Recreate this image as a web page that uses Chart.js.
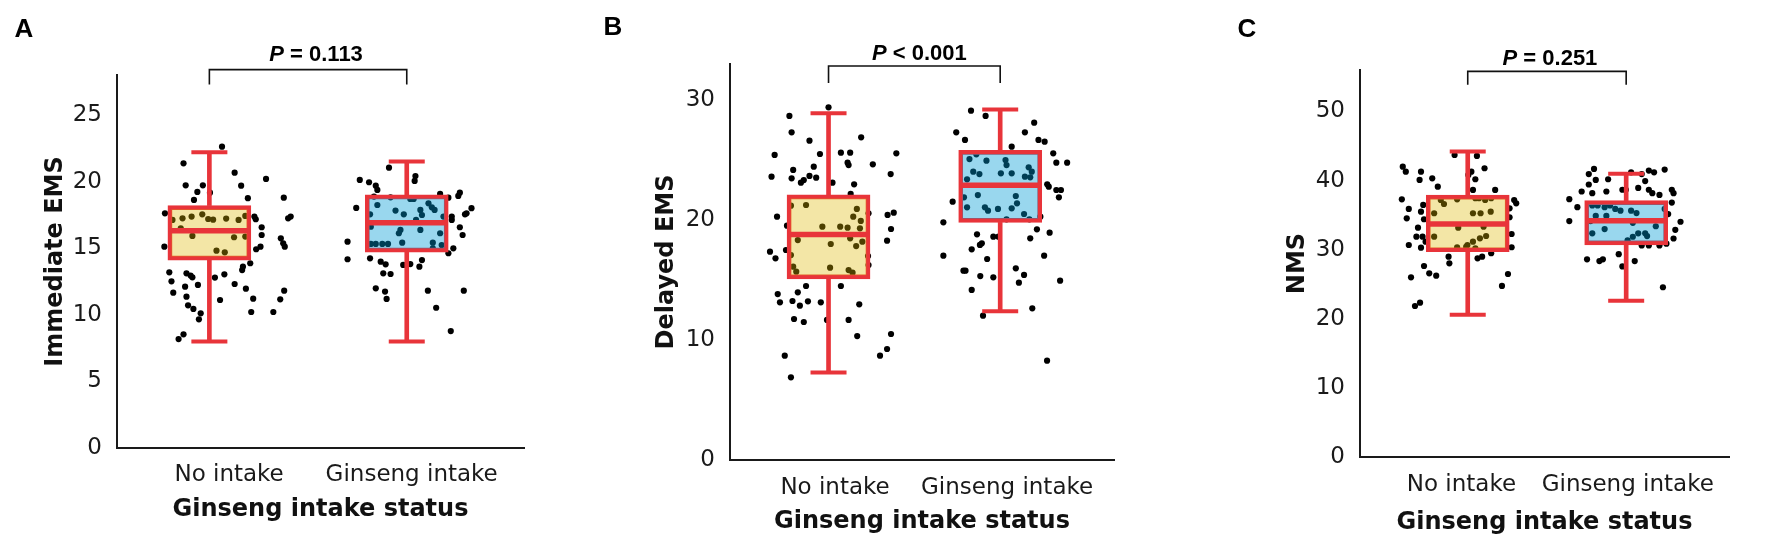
<!DOCTYPE html>
<html>
<head>
<meta charset="utf-8">
<script src="https://cdn.jsdelivr.net/npm/chart.js@4.4.1/dist/chart.umd.min.js"></script>
<style>
  html, body { margin: 0; padding: 0; background: #fff; }
  body { width: 1775px; height: 546px; position: relative; overflow: hidden; }
  canvas { position: absolute; top: 0; }
</style>
</head>
<body>
<canvas id="panelA" width="570" height="546" style="left:0px"></canvas>
<canvas id="panelB" width="590" height="546" style="left:570px"></canvas>
<canvas id="panelC" width="615" height="546" style="left:1160px"></canvas>
<script>
// categories and text
const categories = ['No intake', 'Ginseng intake'];
const yTitles = ['Immediate EMS', 'Delayed EMS', 'NMS'];
const xTitle = 'Ginseng intake status';
const letters = ['A', 'B', 'C'];
const pTexts = [['P', ' = 0.113'], ['P', ' < 0.001'], ['P', ' = 0.251']];

// y axis ranges
const yMax = [28, 33, 56];
const yStep = [5, 10, 10];

// box stats: [min, q1, median, q3, max]
const immNoBox = [8.0, 14.1, 16.3, 18.2, 22.2];
const immGinBox = [8.0, 14.7, 16.9, 19.0, 21.5];
const delNoBox = [7.3, 15.1, 18.8, 22.1, 28.9];
const delGinBox = [12.4, 19.8, 22.9, 25.8, 29.2];
const nmsNoBox = [20.6, 29.7, 33.7, 37.9, 44.2];
const nmsGinBox = [22.6, 30.7, 34.2, 37.1, 41.0];

// jittered points: [jitter, value]
const immNoPts = [
  [0.064,22.62],[-0.131,21.37],[0.128,20.67],[0.287,20.2],[-0.12,19.72],[-0.033,19.72],[0.161,19.69],[-0.061,19.22],
  [0.003,19.17],[0.195,18.75],[-0.078,18.62],[0.377,18.79],[-0.225,17.62],[0.228,17.37],[0.235,17.17],[0.399,17.24],
  [0.412,17.37],[-0.187,17.12],[-0.136,17.24],[-0.09,17.37],[-0.036,17.54],[-0.006,17.19],[0.019,17.14],[0.085,17.22],
  [0.148,17.12],[0.182,17.42],[-0.145,16.49],[-0.086,15.92],[0.125,15.82],[0.182,15.87],[0.265,16.57],[0.265,15.99],
  [0.362,15.74],[0.374,15.37],[0.382,15.11],[0.036,14.81],[0.078,14.69],[0.237,14.92],[0.259,15.11],[-0.228,15.11],
  [0.207,13.87],[0.17,13.61],[0.166,13.36],[-0.203,13.19],[-0.116,13.11],[-0.095,12.94],[-0.086,12.81],[0.076,13.04],
  [0.028,12.79],[-0.192,12.51],[-0.058,12.24],[0.128,12.31],[-0.123,12.11],[0.185,11.96],[-0.183,11.66],[0.379,11.81],
  [-0.116,11.36],[0.222,11.21],[0.054,11.11],[0.359,11.16],[-0.108,10.71],[-0.081,10.44],[-0.044,10.11],[0.212,10.21],
  [0.324,10.21],[-0.053,9.66],[-0.131,8.53],[-0.156,8.18]
];
const immGinPts = [
  [-0.09,21.04],[0.044,20.42],[0.04,20.05],[-0.238,20.12],[-0.191,19.95],[-0.157,19.69],[-0.149,19.37],[0.269,19.17],
  [0.261,18.92],[0.328,18.0],[0.295,17.54],[-0.256,18.02],[-0.3,15.49],[-0.3,14.17],[-0.166,18.87],[-0.082,18.82],
  [0.018,18.69],[0.035,18.69],[0.169,19.07],[0.211,18.79],[0.11,18.37],[0.127,18.07],[0.141,17.87],[-0.057,17.82],
  [-0.015,17.54],[0.069,17.87],[0.077,17.49],[-0.149,18.24],[-0.186,17.54],[0.047,17.12],[0.186,17.37],[0.228,17.37],
  [0.228,17.12],[0.269,16.57],[0.283,15.99],[0.303,17.62],[-0.182,16.61],[-0.032,16.37],[-0.04,16.12],[0.069,16.37],
  [0.169,16.12],[-0.182,15.32],[-0.157,15.32],[-0.124,15.32],[-0.095,15.32],[-0.023,15.41],[0.132,15.41],[0.132,14.99],
  [0.177,15.24],[0.236,14.99],[0.211,14.62],[-0.186,14.24],[-0.132,13.99],[-0.107,13.79],[-0.018,13.74],[0.018,13.81],
  [0.077,14.11],[0.064,13.61],[-0.119,13.11],[-0.082,13.06],[-0.157,11.99],[-0.11,11.74],[-0.102,11.19],[0.107,11.81],
  [0.289,11.81],[0.149,10.53],[0.223,8.78]
];
const delNoPts = [
  [0,29.39],[-0.228,28.67],[-0.215,27.31],[-0.111,26.61],[0.19,26.89],[-0.314,25.42],[-0.05,25.5],[0.072,25.61],
  [0.126,25.61],[0.111,24.78],[0.117,24.58],[0.395,25.56],[0.258,24.64],[-0.332,23.61],[-0.206,24.17],[-0.215,23.47],
  [-0.086,24.44],[-0.072,23.53],[-0.161,23.11],[-0.144,23.33],[-0.111,23.67],[0.023,23.11],[0.149,22.97],[0.362,23.83],
  [0.129,22.17],[-0.219,21.19],[-0.131,21.25],[0.165,20.92],[0.144,20.28],[0.188,19.92],[-0.036,19.44],[0.068,19.44],
  [0.111,19.36],[0.183,19.31],[-0.179,18.33],[0.013,18.0],[0.126,18.47],[0.161,17.83],[0.197,18.19],[-0.206,16.11],
  [-0.188,15.69],[0.009,16.03],[0.117,15.83],[0.14,15.61],[-0.219,17.08],[-0.3,20.28],[-0.242,19.53],[-0.341,17.36],
  [-0.309,16.81],[-0.248,17.5],[0.233,20.56],[0.344,20.42],[0.38,20.61],[0.364,19.25],[0.341,18.28],[0.23,17.0],
  [0.233,16.25],[-0.131,14.5],[0.072,14.5],[-0.296,13.83],[-0.179,13.97],[-0.283,13.14],[-0.21,13.25],[-0.167,12.86],
  [-0.12,13.22],[-0.045,13.14],[0.179,12.97],[-0.201,11.75],[-0.144,11.5],[-0.009,11.67],[0.117,11.67],[0.167,10.33],
  [0.364,10.5],[-0.255,8.69],[0.3,8.69],[0.341,9.25],[-0.219,6.89]
];
const delGinPts = [
  [-0.17,29.11],[-0.085,28.67],[0.198,28.11],[-0.256,27.31],[-0.205,26.67],[0.144,27.31],[0.223,26.67],[0.259,26.53],
  [0.067,26.11],[0.309,25.56],[0.327,24.78],[0.39,24.78],[-0.179,25.08],[-0.139,25.47],[-0.08,24.94],[0.031,25.0],
  [0.037,24.58],[0.166,24.39],[0.184,24.03],[-0.157,24.03],[-0.121,23.83],[0.004,23.89],[0.067,23.89],[0.144,23.61],
  [0.175,23.56],[-0.193,23.39],[0.274,22.97],[0.283,22.78],[0.327,22.5],[0.354,22.5],[0.342,21.89],[-0.211,21.89],
  [-0.13,22.08],[0.091,22.0],[-0.193,21.06],[-0.089,21.06],[-0.071,20.78],[-0.013,20.92],[0.067,20.97],[0.098,21.39],
  [0.139,20.5],[0.037,20.06],[0.17,20.06],[-0.277,21.53],[-0.331,19.81],[-0.331,17.03],[0.234,20.28],[0.214,19.22],
  [0.288,18.94],[0.256,17.03],[0.349,14.94],[-0.135,18.81],[-0.04,18.61],[-0.01,18.61],[0.175,18.47],[-0.166,17.56],
  [-0.118,17.92],[-0.107,18.06],[-0.076,16.75],[-0.214,15.78],[-0.202,15.78],[-0.116,15.33],[-0.04,15.22],[0.091,15.97],
  [0.139,15.42],[0.109,14.78],[-0.166,14.17],[-0.1,12.03],[0.187,12.64],[0.273,8.28]
];
const nmsNoPts = [
  [-0.41,42.01],[-0.391,41.29],[-0.295,41.29],[-0.304,40.09],[-0.224,40.33],[-0.083,43.7],[0.058,43.56],[0.004,40.81],
  [0.023,41.29],[0.048,40.19],[0.106,41.78],[-0.189,39.12],[0.033,38.64],[0.173,38.64],[-0.416,37.29],[-0.372,35.89],
  [-0.385,34.54],[-0.281,36.47],[-0.295,35.5],[-0.276,34.4],[-0.314,33.18],[-0.324,31.88],[-0.285,31.88],[-0.266,31.16],
  [-0.372,30.68],[-0.295,30.29],[-0.17,37.19],[-0.15,36.61],[-0.067,37.29],[0.048,37.44],[0.071,37.44],[0.11,37.19],
  [0.148,37.44],[-0.212,35.27],[0.033,35.27],[0.081,35.27],[0.145,35.5],[-0.212,31.88],[-0.06,33.18],[0.1,33.33],
  [0.077,31.65],[0.116,31.98],[-0.067,30.35],[-0.01,30.4],[-0.002,30.68],[0.033,31.16],[0.048,30.2],[0.264,35.99],
  [0.293,37.19],[0.306,36.71],[0.277,32.27],[0.277,30.35],[0.264,34.69],[-0.121,28.99],[-0.116,28.03],[0.062,28.75],
  [0.091,28.99],[0.148,29.48],[-0.276,27.64],[-0.243,26.58],[-0.199,26.24],[-0.358,26.0],[0.254,26.48],[0.216,24.75],
  [-0.333,21.85],[-0.301,22.33]
];
const nmsGinPts = [
  [-0.203,41.69],[-0.236,40.94],[-0.192,40.09],[-0.114,40.19],[-0.236,39.43],[0.143,41.45],[0.176,41.19],[0.243,41.59],
  [0.098,40.94],[0.031,41.19],[-0.002,38.67],[0.12,39.93],[0.076,38.93],[0.143,38.67],[0.165,38.18],[0.21,37.92],
  [0.288,38.67],[0.299,38.18],[-0.281,38.42],[-0.359,37.31],[-0.308,36.15],[-0.359,34.14],[-0.214,38.18],[-0.125,38.42],
  [-0.024,38.67],[0.288,36.82],[-0.214,36.41],[-0.18,36.41],[-0.136,36.15],[-0.102,36.41],[-0.069,35.9],[-0.036,35.64],
  [0.031,35.64],[0.065,35.3],[-0.192,34.89],[-0.125,34.89],[-0.225,34.14],[-0.136,32.98],[0.042,33.89],[0.076,32.37],
  [0.12,32.37],[0.042,31.87],[0.132,31.97],[0.187,33.39],[-0.214,32.37],[0.009,31.36],[0.243,35.9],[0.265,35.15],
  [0.343,34.04],[0.31,32.88],[0.299,31.62],[0.254,30.87],[0.21,30.61],[0.143,30.61],[0.098,30.61],[-0.247,28.6],
  [-0.169,28.35],[-0.147,28.6],[-0.047,29.35],[-0.024,27.58],[0.054,28.35],[0.232,24.56]
];

const boxes = [[immNoBox, immGinBox], [delNoBox, delGinBox], [nmsNoBox, nmsGinBox]];
const points = [[immNoPts, immGinPts], [delNoPts, delGinPts], [nmsNoPts, nmsGinPts]];

// layout of each panel (canvas-local pixels)
const layout = [
  { id: 'panelA', area: { left: 117, right: 528, top: 75, bottom: 448 }, xMin: 0.532, xMax: 2.594, boxW: 83,
    labelShift: [0.10, 0.025], yTitlePad: 41, xTitlePad: 21.6, tickPad: 5,
    letterPos: [24, 30], pY: 55, pShift: 8, bracket: [69.6, 84.6] },
  { id: 'panelB', area: { left: 160, right: 575.7, top: 64, bottom: 460 }, xMin: 0.426, xMax: 2.663, boxW: 83,
    labelShift: [0.038, 0.04], yTitlePad: 82.3, xTitlePad: 9.6, tickPad: 6,
    letterPos: [43, 28], pY: 54, pShift: 5, bracket: [66, 83] },
  { id: 'panelC', area: { left: 200, right: 603, top: 70, bottom: 457 }, xMin: 0.32, xMax: 2.649, boxW: 83,
    labelShift: [-0.04, 0.01], yTitlePad: 122.9, xTitlePad: 9, tickPad: 6,
    letterPos: [87, 30], pY: 58.5, pShift: 3, bracket: [71.4, 84.7] }
];

const RED = 'rgb(232,52,58)';
const FILLS = ['rgba(220,183,0,0.35)', 'rgba(0,155,212,0.4)'];
const AXIS = '#1a1a1a';
const TICK_FONT = { family: '"DejaVu Sans", Verdana, sans-serif', size: 23 };
const TITLE_FONT = { family: '"DejaVu Sans", Verdana, sans-serif', size: 24, weight: 'bold' };
const H = 546;

// letter, bracket and P value
const annotate = {
  id: 'annotate',
  afterDraw(chart, args, opts) {
    const ctx = chart.ctx;
    const xs = chart.scales.x;
    ctx.save();
    ctx.fillStyle = '#000';
    ctx.textBaseline = 'middle';
    ctx.textAlign = 'center';
    ctx.font = 'bold 26px "Liberation Sans", Arial, sans-serif';
    ctx.fillText(opts.letter, opts.letterPos[0], opts.letterPos[1]);

    const x1 = xs.getPixelForValue(1), x2 = xs.getPixelForValue(2);
    ctx.strokeStyle = '#111';
    ctx.lineWidth = 1.6;
    ctx.beginPath();
    ctx.moveTo(x1, opts.bracket[1]);
    ctx.lineTo(x1, opts.bracket[0]);
    ctx.lineTo(x2, opts.bracket[0]);
    ctx.lineTo(x2, opts.bracket[1]);
    ctx.stroke();

    const ital = 'italic bold 22px "Liberation Sans", Arial, sans-serif';
    const bold = 'bold 22px "Liberation Sans", Arial, sans-serif';
    ctx.font = ital;
    const w1 = ctx.measureText(opts.p[0]).width;
    ctx.font = bold;
    const w2 = ctx.measureText(opts.p[1]).width;
    const x0 = (x1 + x2) / 2 + opts.pShift - (w1 + w2) / 2;
    ctx.textAlign = 'left';
    ctx.font = ital;
    ctx.fillText(opts.p[0], x0, opts.pY);
    ctx.font = bold;
    ctx.fillText(opts.p[1], x0 + w1, opts.pY);
    ctx.restore();
  }
};

layout.forEach(function (L, k) {
  const stats = boxes[k];
  const canvas = document.getElementById(L.id);
  const W = canvas.width;

  const datasets = [
    { // median
      type: 'scatter', data: stats.map((s, i) => ({ x: i + 1, y: s[2] })),
      pointStyle: 'line', pointRadius: L.boxW / 2 - 1, pointBorderWidth: 5.5, pointBorderColor: RED, order: 0
    },
    { // whisker caps
      type: 'scatter', data: stats.flatMap((s, i) => [{ x: i + 1, y: s[0] }, { x: i + 1, y: s[4] }]),
      pointStyle: 'line', pointRadius: 18, pointBorderWidth: 4, pointBorderColor: RED, order: 0
    },
    { // whiskers
      type: 'bar', data: stats.flatMap((s, i) => [{ x: i + 1, y: [s[0], s[1]] }, { x: i + 1, y: [s[3], s[4]] }]),
      barThickness: 4, backgroundColor: RED, borderWidth: 0, grouped: false, order: 1
    },
    { // boxes
      type: 'bar', data: stats.map((s, i) => ({ x: i + 1, y: [s[1], s[3]] })),
      barThickness: L.boxW, backgroundColor: FILLS, borderColor: RED, borderWidth: 4,
      borderSkipped: false, grouped: false, order: 2
    }
  ];
  points[k].forEach(function (pts, i) {
    datasets.push({
      type: 'scatter', label: categories[i],
      data: pts.map(p => ({ x: i + 1 + p[0], y: p[1] })),
      pointRadius: 3.1, backgroundColor: '#000', borderWidth: 0, order: 3
    });
  });

  new Chart(canvas, {
    type: 'scatter',
    data: { datasets: datasets },
    options: {
      responsive: false,
      animation: false,
      layout: { padding: { top: L.area.top, right: W - L.area.right, bottom: 0, left: 0 } },
      plugins: {
        legend: { display: false },
        tooltip: { enabled: false },
        annotate: { letter: letters[k], letterPos: L.letterPos, p: pTexts[k], pY: L.pY, pShift: L.pShift, bracket: L.bracket }
      },
      scales: {
        x: {
          type: 'linear', min: L.xMin, max: L.xMax, offset: false,
          grid: { display: false },
          border: { display: true, color: AXIS, width: 2 },
          ticks: {
            font: TICK_FONT, color: AXIS, padding: L.tickPad, maxRotation: 0, autoSkip: false,
            callback: (v, i) => categories[i] || ''
          },
          afterBuildTicks: s => { s.ticks = categories.map((c, i) => ({ value: i + 1 + L.labelShift[i] })); },
          afterFit: s => { s.height = H - L.area.bottom; },
          title: { display: true, text: xTitle, font: TITLE_FONT, color: '#111', padding: { top: 0, bottom: L.xTitlePad } }
        },
        y: {
          min: 0, max: yMax[k],
          grid: { display: false },
          border: { display: true, color: AXIS, width: 2 },
          ticks: { stepSize: yStep[k], includeBounds: false, font: TICK_FONT, color: AXIS, padding: 7 },
          afterFit: s => { s.width = L.area.left; },
          title: { display: true, text: yTitles[k], font: TITLE_FONT, color: '#111', padding: { top: L.yTitlePad, bottom: 0 } }
        }
      }
    },
    plugins: [annotate]
  });
});
</script>
</body>
</html>
